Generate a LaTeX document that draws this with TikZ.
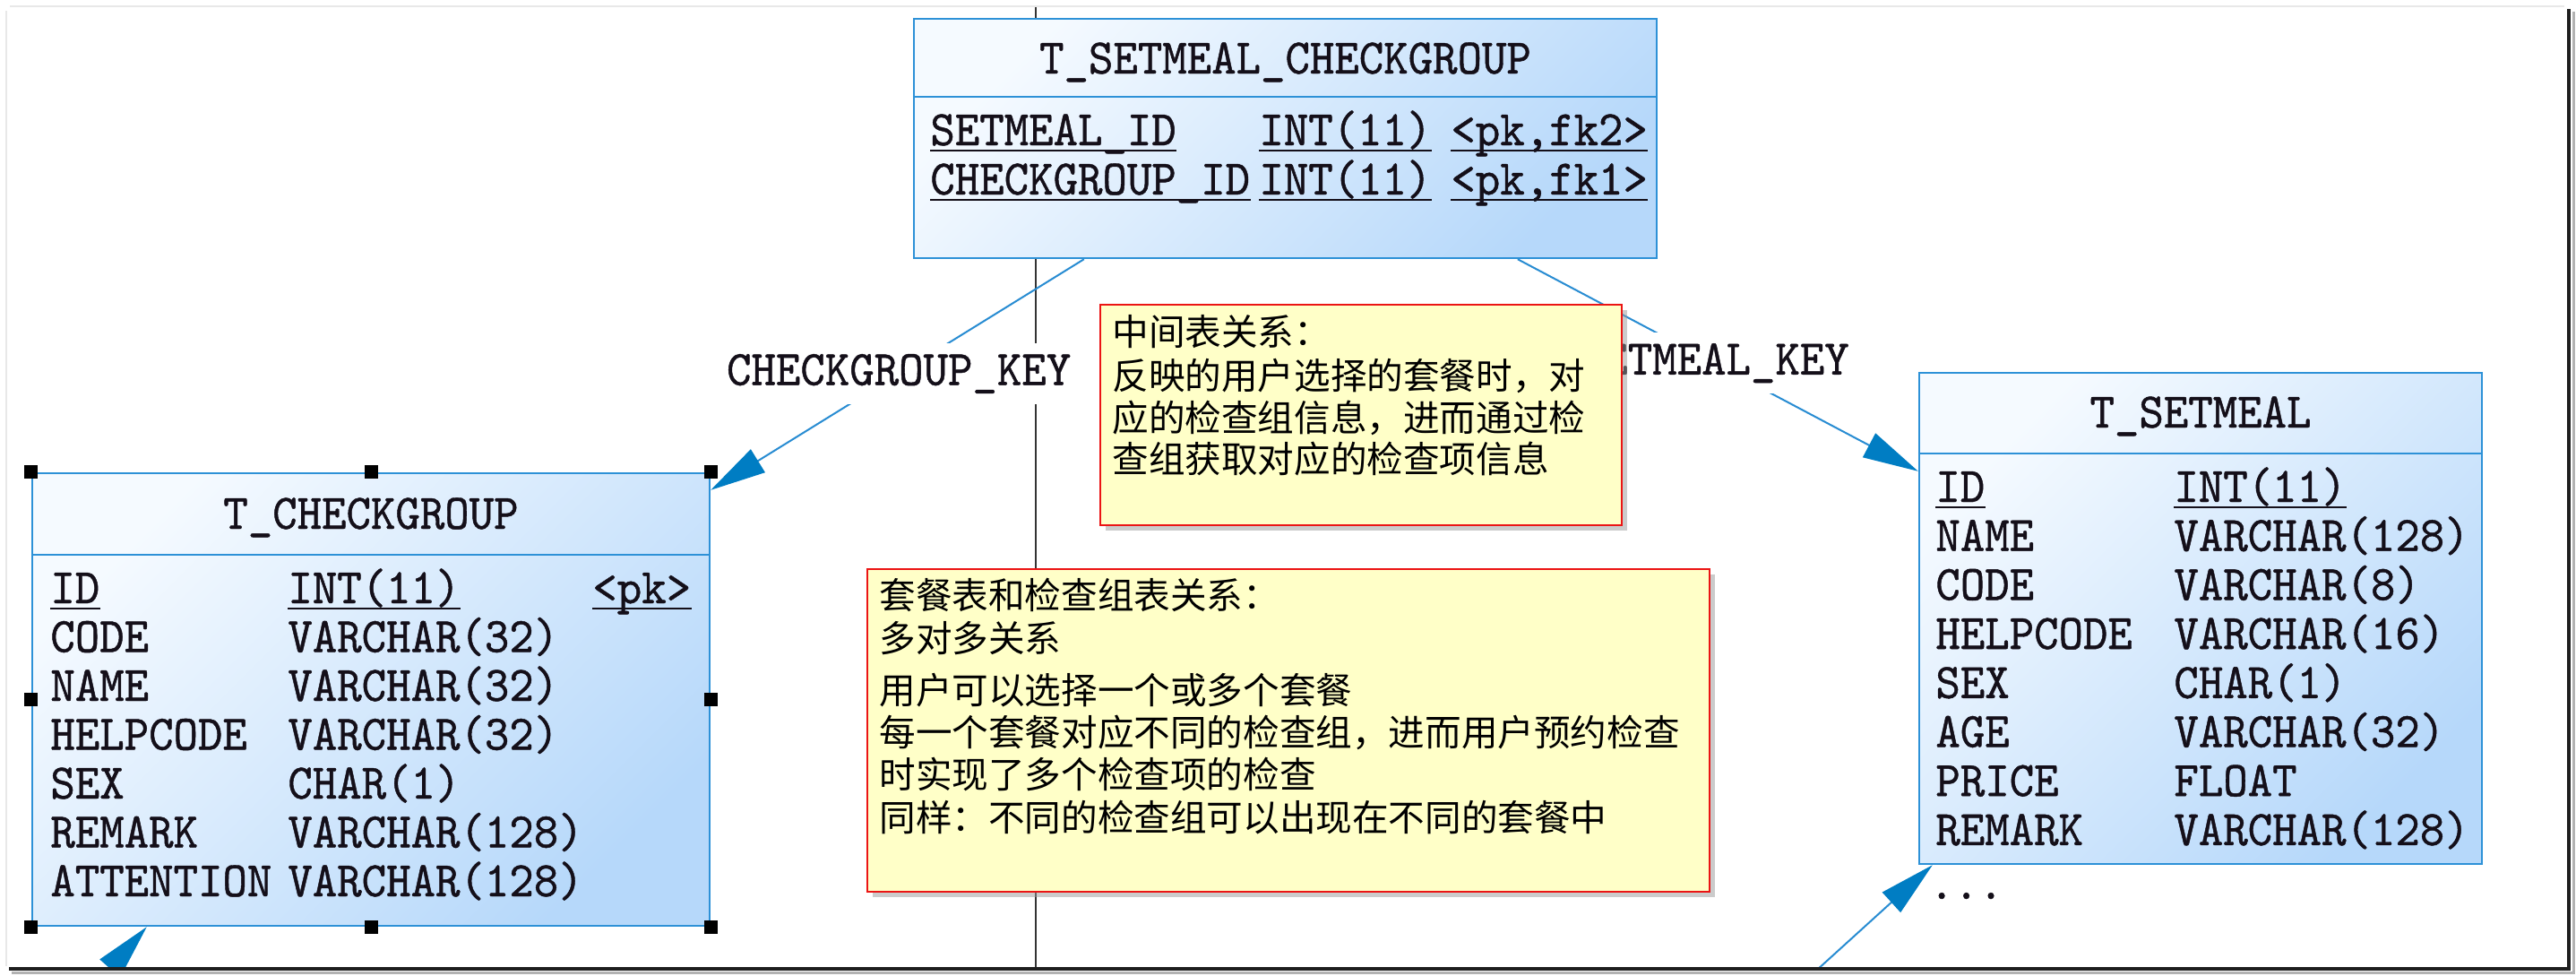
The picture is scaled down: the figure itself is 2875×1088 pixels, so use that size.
\documentclass[tikz,border=0pt]{standalone}
\usepackage{fontspec}
\usetikzlibrary{arrows.meta,fit,calc,shadows}
\newfontfamily\dbf{lmmono10-regular.otf}[FakeStretch=0.94,FakeBold=0.8]
\newfontfamily\cjk{Noto Sans CJK SC}
\definecolor{tblborder}{RGB}{45,145,215}
\definecolor{tblfillA}{RGB}{245,250,255}
\definecolor{tblfillB}{RGB}{182,216,250}
\definecolor{connblue}{RGB}{40,140,210}
\definecolor{arrowblue}{RGB}{0,125,195}
\definecolor{notefill}{RGB}{255,255,200}
\definecolor{noteborder}{RGB}{235,20,20}
\definecolor{framedark}{RGB}{30,30,30}
\definecolor{framelight}{RGB}{232,232,232}
\definecolor{txtdark}{RGB}{20,15,25}
\tikzset{
 tbl/.style={draw=tblborder, line width=1.2pt, top color=tblfillA, bottom color=tblfillB, shading angle=45, inner sep=0pt},
 tblsep/.style={draw=tblborder, line width=1.2pt},
 cell/.style={font=\dbf\fontsize{27.8pt}{30pt}\selectfont, text=txtdark, inner sep=0pt, anchor=base west},
 ttl/.style={cell, anchor=base},
 ul/.style={draw=txtdark, line width=1.4pt},
 conn/.style={draw=connblue, line width=1pt, -{Triangle[length=31pt,width=15pt,fill=arrowblue,color=arrowblue]}},
 lbl/.style={font=\dbf\fontsize{27.8pt}{30pt}\selectfont, text=txtdark, fill=white, inner xsep=4pt, inner ysep=6pt},
 note/.style={draw=noteborder, fill=notefill, line width=1pt, inner sep=0pt, drop shadow={shadow xshift=3pt, shadow yshift=-3pt, fill=black!40}},
 notetxt/.style={font=\cjk\fontsize{20.3pt}{24pt}\selectfont, text=black, inner sep=0pt, anchor=base west},
 handle/.style={fill=black},
}
\begin{document}
\begin{tikzpicture}[x=0.5pt,y=-0.5pt]
\useasboundingbox (0,0) rectangle (2875,1088);
\fill[white] (0,0) rectangle (2875,1088);
\begin{scope}
\clip (8,8) rectangle (2866,1079);
% vertical line
\coordinate (vtop) at (1156,8);
\coordinate (vbot) at (1156,1082);
\draw[black!80, line width=1pt] (vtop) -- (vbot);

% table boxes
\node[tbl, fit={(1020,21) (1849,288)}] (scg) {};
\node[tbl, fit={(36,528) (792,1033)}] (tcg) {};
\node[tbl, fit={(2142,416) (2770,964)}] (tsm) {};
\draw[tblsep] (scg.west |- 0,108) -- (scg.east |- 0,108);
\draw[tblsep] (tcg.west |- 0,619) -- (tcg.east |- 0,619);
\draw[tblsep] (tsm.west |- 0,506) -- (tsm.east |- 0,506);

% connectors
\coordinate (c1a) at ($(scg.south west)+(191,0)$);
\coordinate (c1b) at ($(tcg.north east)+(0,20)$);
\coordinate (c2a) at ($(scg.south west)+(675,0)$);
\coordinate (c2b) at ($(tsm.north west)+(0,111)$);
\coordinate (c3b) at ($(tcg.south west)+(129,0)$);
\coordinate (c3a) at ($(c3b)+(-110,124)$);
\coordinate (c4b) at ($(tsm.south west)+(16,0)$);
\coordinate (c4a) at ($(c4b)+(-140,127)$);
\draw[conn] (c1a) -- node[lbl, pos=0.496] (k1) {CHECKGROUP\_KEY} (c1b);
\draw[conn] (c2a) -- node[lbl, pos=0.49] (k2) {SETMEAL\_KEY} (c2b);
\draw[conn] (c3a) -- (c3b);
\draw[conn] (c4a) -- (c4b);

% T_SETMEAL_CHECKGROUP
\node[ttl] (scgT) at (1434.5,82) {T\_SETMEAL\_CHECKGROUP};
\node[cell] (scg11) at (1038,162) {SETMEAL\_ID};
\node[cell] (scg12) at (1405,162) {INT(11)};
\node[cell] (scg13) at (1619,162) {<pk,fk2>};
\node[cell] (scg21) at (1038,217) {CHECKGROUP\_ID};
\node[cell] (scg22) at (1405,217) {INT(11)};
\node[cell] (scg23) at (1619,217) {<pk,fk1>};

% T_CHECKGROUP
\node[ttl] (tcgT) at (414,590) {T\_CHECKGROUP};
\node[cell] (tcg11) at (56,673) {ID};
\node[cell] (tcg12) at (321,673) {INT(11)};
\node[cell] (tcg13) at (661,673) {<pk>};
\node[cell] (tcg21) at (56,727.5) {CODE};
\node[cell] (tcg22) at (321,727.5) {VARCHAR(32)};
\node[cell] (tcg31) at (56,782) {NAME};
\node[cell] (tcg32) at (321,782) {VARCHAR(32)};
\node[cell] (tcg41) at (56,836.5) {HELPCODE};
\node[cell] (tcg42) at (321,836.5) {VARCHAR(32)};
\node[cell] (tcg51) at (56,891) {SEX};
\node[cell] (tcg52) at (321,891) {CHAR(1)};
\node[cell] (tcg61) at (56,945.5) {REMARK};
\node[cell] (tcg62) at (321,945.5) {VARCHAR(128)};
\node[cell] (tcg71) at (56,1000) {ATTENTION};
\node[cell] (tcg72) at (321,1000) {VARCHAR(128)};

% T_SETMEAL
\node[ttl] (tsmT) at (2456,477) {T\_SETMEAL};
\node[cell] (ts11) at (2160,560) {ID};
\node[cell] (ts12) at (2426,560) {INT(11)};
\node[cell] (ts21) at (2160,614.7) {NAME};
\node[cell] (ts22) at (2426,614.7) {VARCHAR(128)};
\node[cell] (ts31) at (2160,669.4) {CODE};
\node[cell] (ts32) at (2426,669.4) {VARCHAR(8)};
\node[cell] (ts41) at (2160,724.1) {HELPCODE};
\node[cell] (ts42) at (2426,724.1) {VARCHAR(16)};
\node[cell] (ts51) at (2160,778.8) {SEX};
\node[cell] (ts52) at (2426,778.8) {CHAR(1)};
\node[cell] (ts61) at (2160,833.5) {AGE};
\node[cell] (ts62) at (2426,833.5) {VARCHAR(32)};
\node[cell] (ts71) at (2160,888.2) {PRICE};
\node[cell] (ts72) at (2426,888.2) {FLOAT};
\node[cell] (ts81) at (2160,942.9) {REMARK};
\node[cell] (ts82) at (2426,942.9) {VARCHAR(128)};
\node[cell] (tsmore) at (2153,1003) {...};

\foreach \n in {scg11,scg12,scg13,scg21,scg22,scg23,tcg11,tcg12,tcg13,ts11,ts12}
  \draw[ul] ([yshift=-3pt]\n.base west) -- ([yshift=-3pt]\n.base east);

% notes
\node[note, fit={(1228,340) (1810,586)}] (n1) {};
\node[notetxt] (n1a) at (1241,385) {中间表关系：};
\node[notetxt] (n1b) at (1241,434) {反映的用户选择的套餐时，对};
\node[notetxt] (n1c) at (1241,481) {应的检查组信息，进而通过检};
\node[notetxt] (n1d) at (1241,527) {查组获取对应的检查项信息};

\node[note, fit={(968,635) (1908,995)}] (n2) {};
\node[notetxt] (n2a) at (981,679) {套餐表和检查组表关系：};
\node[notetxt] (n2b) at (981,727) {多对多关系};
\node[notetxt] (n2c) at (981,785) {用户可以选择一个或多个套餐};
\node[notetxt] (n2d) at (981,832) {每一个套餐对应不同的检查组，进而用户预约检查};
\node[notetxt] (n2e) at (981,879) {时实现了多个检查项的检查};
\node[notetxt] (n2f) at (981,927) {同样：不同的检查组可以出现在不同的套餐中};

% selection handles
\foreach \a in {north west,north,north east,west,east,south west,south,south east}
  \fill[handle] ($(tcg.\a)+(-7.5,-7.5)$) rectangle ++(15,15);
\end{scope}

% frame
\draw[framelight, line width=1pt] (11,7) -- (2862,7);
\draw[framelight, line width=1pt] (7,12) -- (7,1078);
\draw[black!30, line width=1.5pt] (2872,13) -- (2872,1085) -- (13,1085);
\draw[framedark, line width=1.8pt] (2867,10) -- (2867,1081) -- (10,1081);
\end{tikzpicture}
\end{document}
